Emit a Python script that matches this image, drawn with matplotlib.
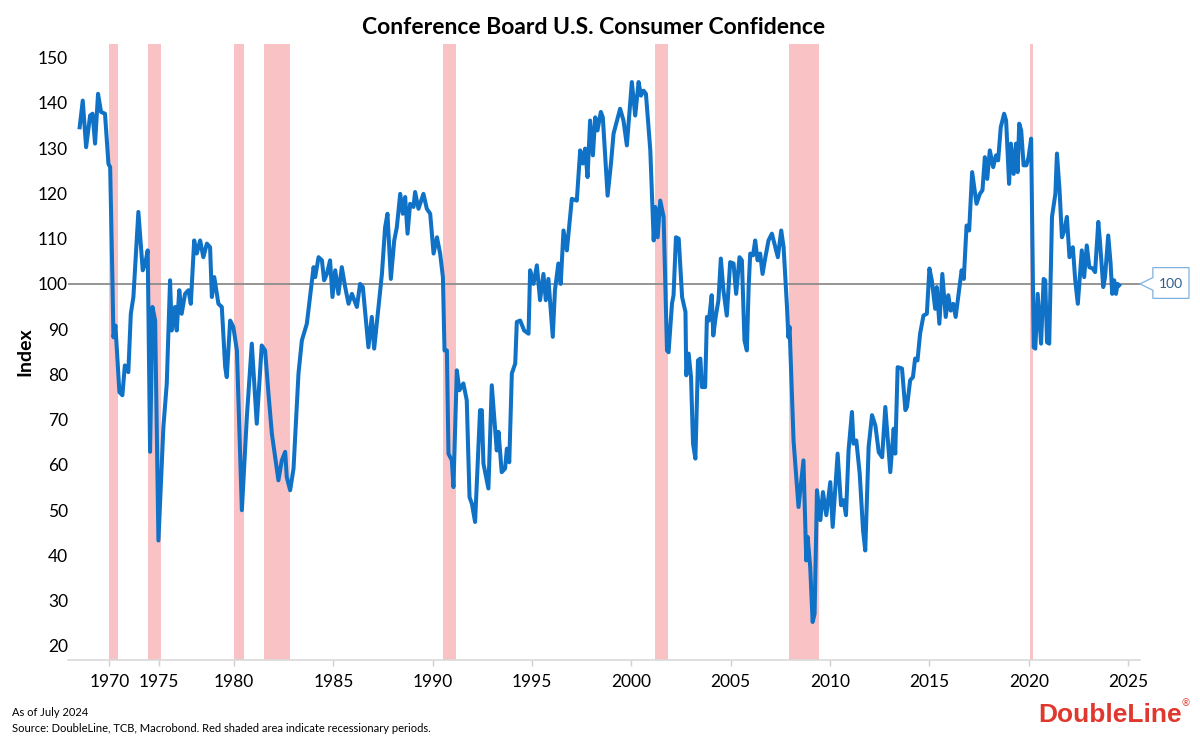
"""Conference Board U.S. Consumer Confidence, recessions shaded."""

import matplotlib

matplotlib.use("Agg")
import matplotlib.pyplot as plt
import numpy as np
from matplotlib.patches import Polygon
from matplotlib.transforms import blended_transform_factory

plt.rcParams["font.family"] = ["Lato", "DejaVu Sans"]

# index readings (decimal year, value); before mid-1977 the survey was bimonthly
YEARS = [
    1967.00, 1967.31, 1967.65, 1968.05, 1968.30, 1968.55, 1968.85, 1969.15, 1969.55, 1969.90,
    1970.07, 1970.30, 1970.40, 1970.60, 1971.00, 1971.30, 1971.55, 1971.90, 1972.15, 1972.41,
    1972.91, 1973.35, 1973.60, 1973.85, 1974.09, 1974.33, 1974.60, 1974.93, 1975.43, 1975.77,
    1976.10, 1976.27, 1976.60, 1976.77, 1977.03, 1977.27, 1977.53, 1977.70, 1977.82, 1977.99,
    1978.12, 1978.29, 1978.45, 1978.63, 1978.79, 1978.88, 1979.00, 1979.21, 1979.38, 1979.55,
    1979.63, 1979.80, 1979.96, 1980.14, 1980.39, 1980.64, 1980.89, 1981.14, 1981.39, 1981.56,
    1981.73, 1981.90, 1982.23, 1982.40, 1982.57, 1982.65, 1982.82, 1982.99, 1983.24, 1983.41,
    1983.66, 1984.00, 1984.08, 1984.25, 1984.42, 1984.53, 1984.67, 1984.83, 1984.95, 1985.09,
    1985.25, 1985.42, 1985.59, 1985.76, 1985.93, 1986.18, 1986.34, 1986.48, 1986.76, 1986.93,
    1987.05, 1987.32, 1987.44, 1987.60, 1987.72, 1987.89, 1988.06, 1988.19, 1988.36, 1988.49,
    1988.61, 1988.73, 1988.86, 1989.03, 1989.11, 1989.28, 1989.53, 1989.70, 1989.87, 1990.04,
    1990.21, 1990.37, 1990.51, 1990.59, 1990.71, 1990.79, 1990.96, 1991.04, 1991.21, 1991.34,
    1991.54, 1991.71, 1991.85, 1991.97, 1992.13, 1992.38, 1992.47, 1992.55, 1992.80, 1992.97,
    1993.22, 1993.31, 1993.47, 1993.64, 1993.73, 1993.85, 1993.98, 1994.15, 1994.23, 1994.40,
    1994.60, 1994.82, 1994.90, 1995.07, 1995.24, 1995.40, 1995.57, 1995.69, 1995.82, 1996.04,
    1996.15, 1996.32, 1996.44, 1996.58, 1996.75, 1997.00, 1997.25, 1997.42, 1997.55, 1997.67,
    1997.79, 1997.92, 1998.06, 1998.18, 1998.29, 1998.46, 1998.56, 1998.80, 1998.97, 1999.10,
    1999.43, 1999.60, 1999.77, 2000.02, 2000.19, 2000.36, 2000.48, 2000.61, 2000.73, 2000.95,
    2001.12, 2001.20, 2001.32, 2001.45, 2001.62, 2001.79, 2001.87, 2002.04, 2002.12, 2002.24,
    2002.38, 2002.55, 2002.72, 2002.76, 2002.88, 2003.00, 2003.10, 2003.22, 2003.35, 2003.47,
    2003.55, 2003.71, 2003.80, 2003.90, 2004.04, 2004.12, 2004.24, 2004.38, 2004.50, 2004.63,
    2004.80, 2004.97, 2005.14, 2005.27, 2005.44, 2005.56, 2005.69, 2005.81, 2005.90, 2005.98,
    2006.12, 2006.23, 2006.35, 2006.48, 2006.60, 2006.73, 2006.90, 2007.07, 2007.24, 2007.37,
    2007.54, 2007.66, 2007.83, 2007.90, 2007.96, 2008.16, 2008.41, 2008.66, 2008.80, 2008.87,
    2009.00, 2009.12, 2009.22, 2009.34, 2009.51, 2009.64, 2009.81, 2010.01, 2010.13, 2010.38,
    2010.55, 2010.68, 2010.80, 2010.93, 2011.10, 2011.18, 2011.32, 2011.49, 2011.66, 2011.77,
    2011.94, 2012.11, 2012.28, 2012.45, 2012.62, 2012.78, 2013.03, 2013.20, 2013.28, 2013.40,
    2013.62, 2013.79, 2013.87, 2014.03, 2014.17, 2014.28, 2014.40, 2014.53, 2014.70, 2014.87,
    2015.00, 2015.12, 2015.29, 2015.37, 2015.50, 2015.65, 2015.82, 2015.95, 2016.07, 2016.20,
    2016.32, 2016.45, 2016.62, 2016.73, 2016.87, 2017.00, 2017.15, 2017.37, 2017.54, 2017.67,
    2017.79, 2017.91, 2018.04, 2018.21, 2018.35, 2018.46, 2018.59, 2018.76, 2018.86, 2019.01,
    2019.10, 2019.24, 2019.36, 2019.44, 2019.52, 2019.62, 2019.74, 2019.88, 2019.99, 2020.12,
    2020.25, 2020.33, 2020.45, 2020.62, 2020.75, 2020.83, 2020.92, 2021.03, 2021.17, 2021.34,
    2021.42, 2021.55, 2021.67, 2021.79, 2021.92, 2022.05, 2022.22, 2022.34, 2022.47, 2022.67,
    2022.79, 2022.92, 2023.05, 2023.22, 2023.34, 2023.50, 2023.58, 2023.75, 2023.84, 2024.00,
    2024.12, 2024.20, 2024.30, 2024.39, 2024.47, 2024.55,
]
INDEX = [
    134.6, 140.5, 130.2, 137.2, 137.6, 131.0, 142.0, 138.0, 137.6, 126.5,
    125.8, 100.8, 88.2, 90.8, 76.1, 75.4, 82.0, 80.5, 93.4, 97.1,
    115.9, 103.0, 104.5, 107.4, 62.9, 94.9, 91.9, 43.3, 68.4, 78.0,
    100.8, 89.7, 94.9, 89.7, 98.6, 93.4, 97.8, 98.6, 95.6, 109.6,
    106.7, 109.6, 105.9, 108.9, 108.1, 97.1, 101.5, 95.6, 94.9, 81.6,
    79.4, 91.9, 90.5, 85.3, 50.0, 70.6, 86.8, 69.1, 86.4, 85.3,
    75.7, 66.9, 56.6, 61.0, 62.9, 57.3, 54.4, 59.2, 80.2, 87.5,
    91.2, 103.7, 101.5, 105.9, 105.2, 100.8, 102.2, 105.2, 97.1, 103.0,
    97.8, 103.7, 99.3, 95.6, 97.8, 94.9, 100.0, 99.3, 86.0, 92.7,
    85.7, 97.1, 102.2, 112.5, 115.5, 101.1, 109.6, 112.5, 119.9, 115.5,
    119.2, 111.1, 117.7, 117.0, 120.3, 116.6, 119.9, 116.6, 115.5, 106.7,
    110.3, 106.7, 101.5, 85.3, 85.3, 62.5, 61.0, 55.1, 80.9, 76.5,
    78.0, 74.3, 52.9, 51.4, 47.4, 72.1, 72.1, 60.3, 54.8, 77.6,
    63.2, 67.3, 58.4, 59.2, 63.6, 60.6, 80.2, 82.4, 91.6, 91.9,
    89.7, 89.0, 103.0, 100.0, 104.1, 96.4, 102.2, 96.4, 101.1, 88.3,
    98.6, 104.5, 100.0, 111.8, 107.4, 118.8, 118.4, 129.5, 126.6, 129.9,
    123.6, 136.1, 128.4, 136.8, 133.9, 138.0, 136.8, 119.5, 126.6, 133.2,
    138.7, 136.1, 130.6, 144.6, 137.2, 144.6, 141.6, 142.7, 142.0, 129.5,
    109.6, 117.0, 110.3, 118.4, 114.8, 85.3, 84.9, 95.6, 97.5, 110.3,
    110.0, 97.1, 93.8, 79.8, 84.6, 79.4, 64.7, 61.4, 83.1, 83.5,
    77.2, 77.2, 92.7, 91.9, 97.5, 88.6, 92.7, 96.4, 105.6, 98.6,
    93.0, 104.8, 104.5, 97.8, 105.9, 105.2, 87.5, 85.3, 99.3, 106.7,
    106.3, 109.6, 105.2, 106.7, 102.2, 105.6, 109.6, 111.1, 108.1, 105.9,
    111.8, 108.1, 94.9, 88.2, 90.5, 65.4, 50.7, 61.0, 38.9, 44.1,
    37.4, 25.3, 27.1, 54.4, 47.8, 54.0, 48.9, 56.2, 46.3, 62.5,
    51.1, 52.2, 48.9, 63.2, 71.7, 64.7, 65.4, 58.1, 45.5, 41.1,
    64.0, 71.0, 68.7, 62.8, 61.7, 72.8, 58.4, 68.0, 62.5, 81.6,
    81.3, 72.1, 72.8, 78.7, 79.4, 83.5, 83.1, 89.0, 93.0, 93.4,
    103.4, 100.8, 94.5, 99.3, 91.2, 102.2, 92.7, 97.5, 94.1, 95.6,
    92.7, 97.1, 103.0, 101.1, 112.9, 111.8, 124.7, 117.7, 119.9, 120.7,
    128.0, 123.2, 129.5, 125.8, 128.4, 127.3, 134.6, 137.6, 136.1, 122.1,
    131.0, 124.3, 131.0, 124.7, 135.4, 133.9, 126.2, 126.2, 128.0, 132.1,
    86.0, 85.7, 97.8, 86.8, 101.1, 100.8, 87.1, 86.8, 114.8, 119.9,
    128.8, 120.7, 110.3, 111.8, 114.8, 105.9, 108.1, 100.8, 95.6, 107.4,
    101.5, 108.5, 103.7, 103.4, 102.6, 113.7, 109.6, 99.3, 101.5, 110.7,
    104.5, 97.8, 100.8, 97.8, 100.0, 99.7,
]

# NBER recessions
REC_START = [1969.92, 1973.83, 1980.00, 1981.50, 1990.50, 2001.17, 2007.92, 2020.08]
REC_END = [1970.83, 1975.17, 1980.50, 1982.83, 1991.17, 2001.83, 2009.42, 2020.21]

X_TICKS = list(range(1970, 2026, 5))
Y_TICKS = list(range(20, 151, 10))

# the source axis is per observation, so bimonthly years take half the width
SWITCH = 1977.45


def fwd(x):
    x = np.asarray(x, dtype=float)
    return np.where(x < SWITCH, SWITCH - (SWITCH - x) / 2, x)


def inv(t):
    t = np.asarray(t, dtype=float)
    return np.where(t < SWITCH, SWITCH - 2 * (SWITCH - t), t)


fig = plt.figure(figsize=(12, 7.5), dpi=100)
ax = fig.add_axes([0.0567, 0.12, 0.8933, 0.8213])
ax.set_xscale("function", functions=(fwd, inv))

for start, end in zip(REC_START, REC_END):
    ax.axvspan(start, end, color="#F9C3C6", lw=0, zorder=0)

ax.axhline(100, color="#8C8C8C", lw=1.3, zorder=1)
ax.plot(YEARS, INDEX, color="#1072C6", lw=2.9, solid_joinstyle="round", zorder=2)

ax.set_xlim(1965.83, 2025.6)
ax.set_ylim(16.9, 153)
ax.set_xticks(X_TICKS)
ax.set_yticks(Y_TICKS)
ax.tick_params(axis="x", direction="out", length=4, width=1, color="#D0D0D0", labelsize=12.5, pad=6)
ax.tick_params(axis="y", length=0, labelsize=12.5, pad=0)
for side in ["top", "right", "left"]:
    ax.spines[side].set_visible(False)
ax.spines["bottom"].set_color("#D9D9D9")
ax.spines["bottom"].set_linewidth(1.2)

ax.set_ylabel("Index", fontsize=14, fontweight="bold")
ax.yaxis.set_label_coords(-0.032, 0.5)
fig.text(0.495, 0.963, "Conference Board U.S. Consumer Confidence", ha="center", va="center",
         fontsize=16.5, fontweight="bold")

# callout box on the 100 line
trans = blended_transform_factory(ax.transAxes, ax.transData)
callout = Polygon(
    [(1.012, 103.6), (1.0457, 103.6), (1.0457, 96.8), (1.012, 96.8), (1.012, 98.6), (1.0, 100), (1.012, 101.4)],
    closed=True, facecolor="white", edgecolor="#7FB1DE", lw=0.9, transform=trans, clip_on=False, zorder=3,
)
ax.add_patch(callout)
ax.text(1.029, 100, "100", transform=trans, ha="center", va="center", fontsize=10, color="#2E5F8E",
        clip_on=False, zorder=4)

fig.text(0.01, 0.05, "As of July 2024", fontsize=8, va="center")
fig.text(0.01, 0.028, "Source: DoubleLine, TCB, Macrobond. Red shaded area indicate recessionary periods.",
         fontsize=8, va="center")
fig.text(0.985, 0.047, "DoubleLine", ha="right", va="center", fontsize=19, fontweight="bold",
         color="#E0382E", family=["Liberation Sans", "DejaVu Sans"])
fig.text(0.991, 0.062, "\u00ae", ha="right", va="center", fontsize=7, color="#E0382E")

fig.savefig("out.png", dpi=100)
